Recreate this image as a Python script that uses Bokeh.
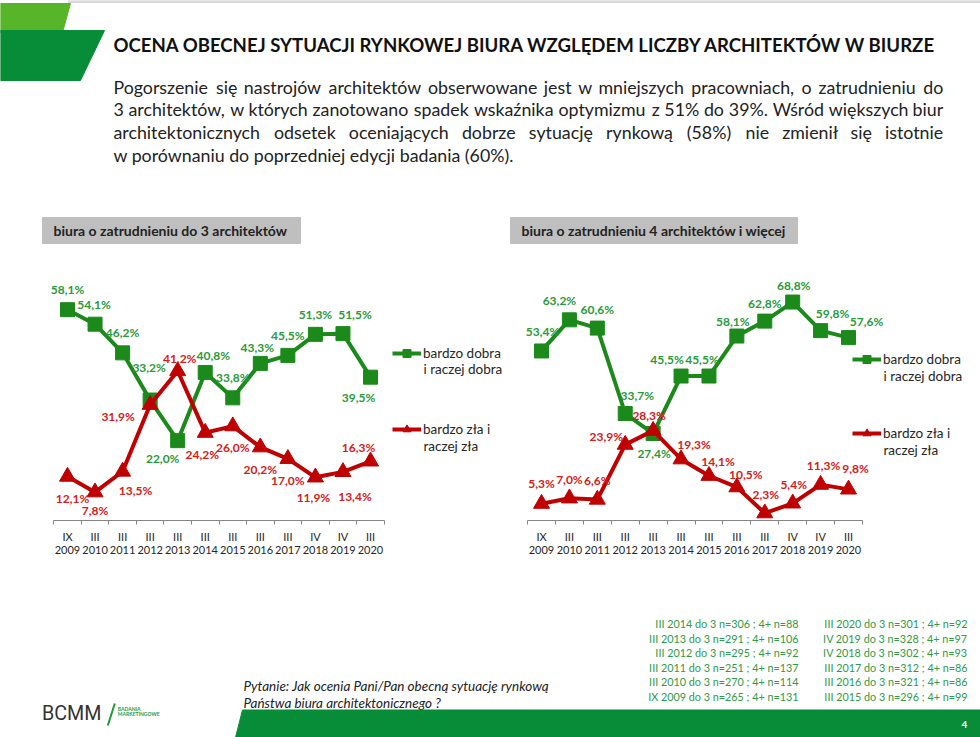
from bokeh.plotting import figure
from bokeh.models import Range1d, FixedTicker, Legend, LegendItem, ColumnDataSource, LinearAxis
from bokeh.layouts import column, row
from bokeh.core.properties import value
from bokeh.embed import file_html
from bokeh.resources import INLINE

# ---------------- data ----------------
periods = ["IX", "III", "III", "III", "III", "III", "III", "III", "III", "IV", "IV", "III"]
years = ["2009", "2010", "2011", "2012", "2013", "2014", "2015", "2016", "2017", "2018", "2019", "2020"]

small_good = [58.1, 54.1, 46.2, 33.2, 22.0, 40.8, 33.8, 43.3, 45.5, 51.3, 51.5, 39.5]
small_bad = [12.1, 7.8, 13.5, 31.9, 41.2, 24.2, 26.0, 20.2, 17.0, 11.9, 13.4, 16.3]
large_good = [53.4, 63.2, 60.6, 33.7, 27.4, 45.5, 45.5, 58.1, 62.8, 68.8, 59.8, 57.6]
large_bad = [5.3, 7.0, 6.6, 23.9, 28.3, 19.3, 14.1, 10.5, 2.3, 5.4, 11.3, 9.8]

series_good = ["bardzo dobra", "i raczej dobra"]
series_bad = ["bardzo zła i", "raczej zła"]

title_text = "OCENA OBECNEJ SYTUACJI RYNKOWEJ BIURA WZGLĘDEM LICZBY ARCHITEKTÓW W BIURZE"
para_lines = [
    "Pogorszenie się nastrojów architektów obserwowane jest w mniejszych pracowniach, o zatrudnieniu do",
    "3 architektów, w których zanotowano spadek wskaźnika optymizmu z 51% do 39%. Wśród większych biur",
    "architektonicznych odsetek oceniających dobrze sytuację rynkową (58%) nie zmienił się istotnie",
    "w porównaniu do poprzedniej edycji badania (60%).",
]
panel_titles = ["biura o zatrudnieniu do 3 architektów", "biura o zatrudnieniu 4 architektów i więcej"]
samples_col1 = [
    "III 2014 do 3 n=306 ; 4+ n=88",
    "III 2013 do 3 n=291 ; 4+ n=106",
    "III 2012 do 3 n=295 ; 4+ n=92",
    "III 2011 do 3 n=251 ; 4+ n=137",
    "III 2010 do 3 n=270 ; 4+ n=114",
    "IX 2009 do 3 n=265 ; 4+ n=131",
]
samples_col2 = [
    "III 2020 do 3 n=301 ; 4+ n=92",
    "IV 2019 do 3 n=328 ; 4+ n=97",
    "IV 2018 do 3 n=302 ; 4+ n=93",
    "III 2017 do 3 n=312 ; 4+ n=86",
    "III 2016 do 3 n=321 ; 4+ n=86",
    "III 2015 do 3 n=296 ; 4+ n=99",
]
question_lines = ["Pytanie: Jak ocenia Pani/Pan obecną sytuację rynkową",
                  "Państwa biura architektonicznego ?"]

# ---------------- styles / label placement (pixels) ----------------
GREEN = "#1b8a1b"
RED = "#c00000"
GREEN_LBL = "#2a9a3a"
RED_LBL = "#d42020"
DARK_GREEN = "#078c37"
LIGHT_GREEN = "#56b528"
FONT = "Lato"

off_small_good = [(0, -20), (-1, -20), (0, -20), (-1, -33), (-15, 18), (8, -17),
                  (0, -20), (-3, -16), (0, -20), (0, -20), (12, -19), (-12, 20)]
off_small_bad = [(5, 22), (0, 18), (13, 19), (-32, 12), (2, -13), (-3, 22),
                 (0, 21), (0, 22), (0, 22), (-2, 20), (12, 25), (-12, -14)]
off_large_good = [(1, -19), (-10, -19), (0, -19), (12, -18), (1, 20), (-14, -17),
                  (-7, -17), (-4, -15), (0, -18), (1, -17), (12, -17), (18, -16)]
off_large_bad = [(0, -20), (0, -19), (0, -19), (-19, -8), (-4, -15), (13, -15),
                 (9, -14), (9, -13), (1, -19), (1, -19), (3, -19), (7, -21)]


def fmt(v):
    return ("%.1f%%" % v).replace(".", ",")


# rough advance widths (em) for justified paragraph layout
_W = {}
for ch in "iljłI.,:;'!|": _W[ch] = 0.24
for ch in "frtś": _W[ch] = 0.36
for ch in "sśzźż": _W[ch] = 0.44
for ch in "cć": _W[ch] = 0.46
for ch in "aąeęvxyk": _W[ch] = 0.51
for ch in "bdghnńopqouó": _W[ch] = 0.57
for ch in "0123456789": _W[ch] = 0.58
_W.update({"m": 0.86, "w": 0.76, "W": 0.95, "%": 0.8, "(": 0.3, ")": 0.3, "P": 0.6})


def text_w(s, size):
    return sum(_W.get(ch, 0.55) for ch in s) * size


def page_fig(w, h, x0, y0):
    p = figure(width=w, height=h, x_range=Range1d(x0, x0 + w), y_range=Range1d(y0 + h, y0),
               x_axis_location=None, y_axis_location=None, min_border=0,
               outline_line_color=None, output_backend="svg", toolbar_location=None)
    p.grid.visible = False
    return p


# ---------------- header ----------------
hdr = page_fig(980, 262, 0, 0)
hdr.quad(left=[68], right=[980], top=[0], bottom=[2], color="#d9d9d9")
hdr.patch([0, 70, 62, 0], [3, 3, 32, 32], color=LIGHT_GREEN)
hdr.patch([0, 104, 80, 0], [30, 30, 80, 80], color=DARK_GREEN)
hdr.text(x=[113], y=[44], text=[title_text], text_font=value(FONT), text_font_style="bold",
         text_font_size="18.6px", text_color="#111111", text_baseline="middle")

PSIZE = 17.8
PX0, PX1 = 113, 943
para_y = [86, 108.5, 131, 154]
wx, wy, wt = [], [], []
for k, line in enumerate(para_lines):
    words = line.split(" ")
    if k < len(para_lines) - 1:
        widths = [text_w(w, PSIZE) for w in words]
        gap = (PX1 - PX0 - sum(widths)) / (len(words) - 1)
        x = PX0
        for w, ww in zip(words, widths):
            wx.append(x); wy.append(para_y[k]); wt.append(w)
            x += ww + gap
    else:
        wx.append(PX0); wy.append(para_y[k]); wt.append(line)
hdr.text(x=wx, y=wy, text=wt, text_font=value(FONT), text_font_size="%.1fpx" % PSIZE,
         text_color="#222222", text_baseline="middle")
hdr.quad(left=[42, 510], right=[300, 797], top=[217, 217], bottom=[243, 243], color="#bfbfbf")
hdr.text(x=[53, 521], y=[230, 230], text=panel_titles, text_font=value(FONT),
         text_font_style="bold", text_font_size="14px", text_color="#222222",
         text_baseline="middle")


# ---------------- charts ----------------
def chart(good, bad, ymax, fig_left, W, px_first, px_last, off_good, off_bad, leg_x, leg_good_y, leg_bad_y):
    H = 306
    BASE = 520  # page y of the axis line
    unit = (px_last - px_first) / 11.0
    xs = -(px_first - fig_left) / unit
    xe = 11 + (fig_left + W - px_last) / unit
    ppy = 254.0 / ymax
    p = figure(width=W, height=H, x_range=Range1d(xs, xe), y_range=Range1d(0, ymax),
               y_axis_location=None, min_border_left=0, min_border_right=0,
               min_border_top=4, min_border_bottom=48, outline_line_color=None,
               output_backend="svg", toolbar_location=None)
    p.grid.visible = False
    idx = list(range(len(years)))
    src_g = ColumnDataSource(dict(x=idx, y=good, t=[fmt(v) for v in good],
                                  dx=[o[0] for o in off_good], dy=[o[1] for o in off_good]))
    src_b = ColumnDataSource(dict(x=idx, y=bad, t=[fmt(v) for v in bad],
                                  dx=[o[0] for o in off_bad], dy=[o[1] for o in off_bad]))
    lg = p.line("x", "y", source=src_g, line_color=GREEN, line_width=4)
    sg = p.scatter("x", "y", source=src_g, marker="square", size=14, color=GREEN)
    lb = p.line("x", "y", source=src_b, line_color=RED, line_width=4)
    sb = p.scatter("x", "y", source=src_b, marker="triangle", size=16, color=RED)
    for src, col in ((src_g, GREEN_LBL), (src_b, RED_LBL)):
        p.text("x", "y", text="t", source=src, x_offset="dx", y_offset="dy",
               text_font=value(FONT), text_font_style="bold", text_font_size="12px",
               text_color=col, text_align="center", text_baseline="middle")
    # axis: periods (with line and boundary ticks)
    ax = p.xaxis[0]
    ax.ticker = FixedTicker(ticks=idx, minor_ticks=[i - 0.5 for i in range(13)])
    ax.bounds = (-0.5, 11.5)
    ax.major_label_overrides = {i: periods[i] for i in idx}
    ax.major_tick_out = 0
    ax.major_tick_in = 0
    ax.minor_tick_out = 4
    ax.minor_tick_in = 0
    ax.axis_line_color = "#868686"
    ax.minor_tick_line_color = "#868686"
    ax.major_label_standoff = 5
    ax.major_label_text_font = FONT
    ax.major_label_text_font_size = "11px"
    ax.major_label_text_color = "#262626"
    # second axis row: years
    ax2 = LinearAxis(ticker=FixedTicker(ticks=idx), bounds=(-0.5, 11.5),
                     major_label_overrides={i: years[i] for i in idx},
                     axis_line_color=None, major_tick_line_color=None, minor_tick_line_color=None,
                     major_tick_out=0, major_tick_in=0, minor_tick_out=0, minor_tick_in=0,
                     major_label_standoff=0, major_label_text_font=FONT,
                     major_label_text_font_size="11px", major_label_text_color="#262626")
    p.add_layout(ax2, "below")
    # legends: first line in a Legend, second line as text below it
    second_x, second_y, second_t = [], [], []
    for lab, rends, ly in ((series_good, [lg, sg], leg_good_y), (series_bad, [lb, sb], leg_bad_y)):
        leg = Legend(items=[LegendItem(label=lab[0], renderers=rends)],
                     location=(leg_x - fig_left, BASE - (ly + 10)), border_line_color=None,
                     background_fill_alpha=0, padding=0, margin=0, glyph_width=29,
                     label_standoff=2, label_text_font=FONT, label_text_font_size="13.5px",
                     label_text_color="#262626")
        p.add_layout(leg, "center")
        second_x.append(xs + (leg_x + 31 - fig_left) / unit)
        second_y.append((BASE - (ly + 16)) / ppy)
        second_t.append(lab[1])
    p.text(x=second_x, y=second_y, text=second_t, text_font=value(FONT),
           text_font_size="13.5px", text_color="#262626", text_baseline="middle")
    return p


left = chart(small_good, small_bad, 70, 0, 505, 67, 370, off_small_good, off_small_bad, 392, 352.7, 429)
right = chart(large_good, large_bad, 80, 505, 475, 541, 848, off_large_good, off_large_bad, 852, 359.3, 433.3)

# ---------------- footer ----------------
ftr = page_fig(980, 169, 0, 568)
ys = [623.3, 637.7, 652, 666.7, 681, 696]
ftr.text(x=[798] * 6, y=ys, text=samples_col1, text_font=value(FONT), text_font_size="10.8px",
         text_color="#2f9a47", text_align="right", text_baseline="middle")
ftr.text(x=[967] * 6, y=ys, text=samples_col2, text_font=value(FONT), text_font_size="10.8px",
         text_color="#2f9a47", text_align="right", text_baseline="middle")
ftr.text(x=[243, 243], y=[685, 702], text=question_lines, text_font=value(FONT),
         text_font_style="italic", text_font_size="13.5px", text_color="#222222",
         text_baseline="middle")
ftr.patch([242, 980, 980, 235], [709.5, 709.5, 737, 737], color=DARK_GREEN)
ftr.text(x=[964], y=[724], text=["4"], text_font=value(FONT), text_font_style="bold",
         text_font_size="10px", text_color="white", text_align="center", text_baseline="middle")
ftr.text(x=[41.5], y=[713], text=["BCMM"], text_font=value("Roboto"), text_font_size="19.7px",
         text_color="#333333", text_baseline="middle")
ftr.segment(x0=[114.3], y0=[703], x1=[107.3], y1=[725], line_color="#1f9a3a", line_width=2)
ftr.text(x=[117.3, 117.3], y=[708, 713], text=["BADANIA", "MARKETINGOWE"], text_font=value(FONT),
         text_font_style="bold", text_font_size="5px", text_color="#1f9a3a",
         text_baseline="middle")

page = column(hdr, row(left, right), ftr)
open("out.html", "w").write(file_html(page, INLINE))
